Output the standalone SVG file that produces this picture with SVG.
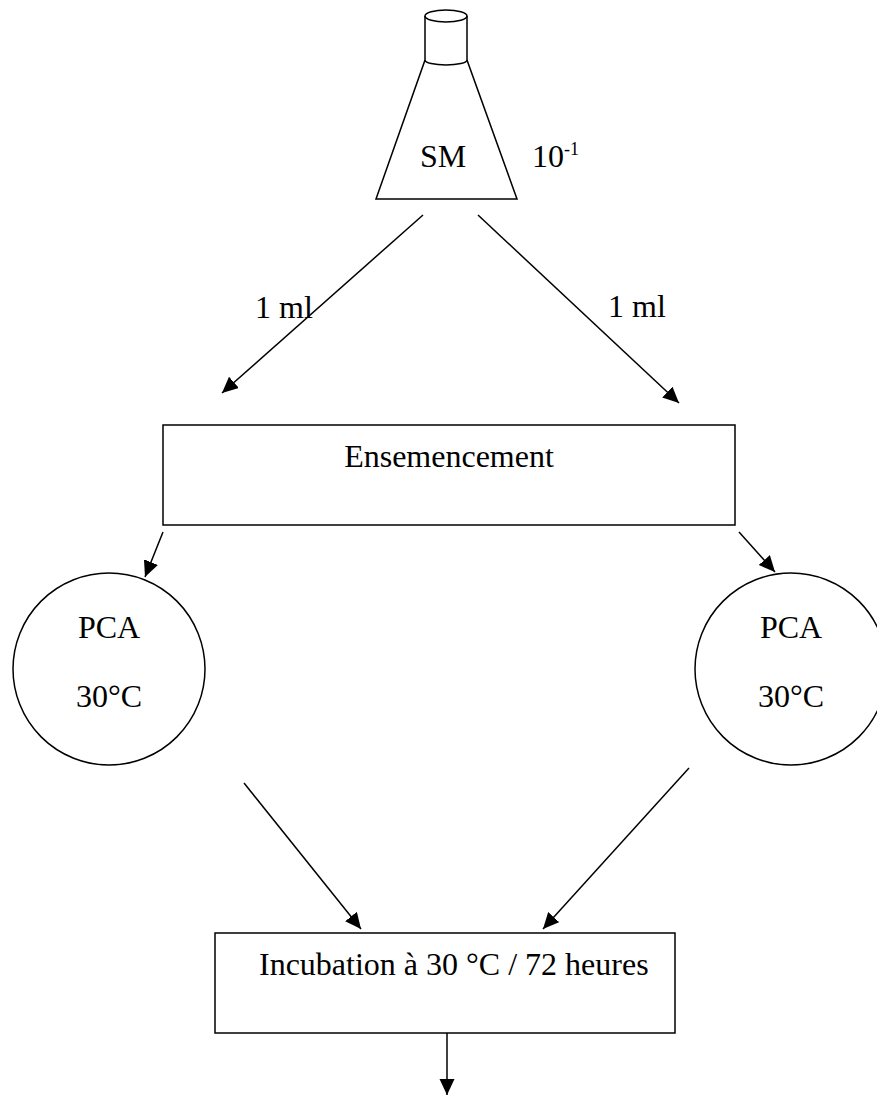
<svg xmlns="http://www.w3.org/2000/svg" width="877" height="1097" viewBox="0 0 877 1097">
<style>
.s{fill:none;stroke:#000;stroke-width:1.5}
.t{font-family:"Liberation Serif","Times New Roman",serif;font-size:32px;fill:#000}
.c{text-anchor:middle}
</style>
<defs>
<marker id="ah" markerUnits="userSpaceOnUse" markerWidth="18" markerHeight="16" refX="16" refY="7.5" orient="auto">
<path d="M0,0 L16,7.5 L0,15 Z" fill="#000"/>
</marker>
</defs>
<rect width="877" height="1097" fill="#fff"/>
<g id="flask">
<path class="s" d="M425,16 L425,60 L376,199 L517,199 L467,60 L467,16"/>
<ellipse class="s" cx="446" cy="16" rx="21" ry="6"/>
<path class="s" d="M425,60 A21,5 0 0 0 467,60"/>
<text class="t c" x="443" y="167" font-size="30">SM</text>
<text class="t" x="532" y="167" font-size="28">10<tspan font-size="18" dy="-12">-1</tspan></text>
</g>
<g id="ensemencement">
<rect class="s" x="163" y="425" width="572" height="100"/>
<text class="t c" x="449" y="467">Ensemencement</text>
</g>
<g id="pca-left">
<circle class="s" cx="109" cy="669" r="96"/>
<text class="t c" x="109" y="638">PCA</text>
<text class="t c" x="109" y="707">30°C</text>
</g>
<g id="pca-right">
<circle class="s" cx="791" cy="669" r="96"/>
<text class="t c" x="791" y="638">PCA</text>
<text class="t c" x="791" y="707">30°C</text>
</g>
<g id="incubation">
<rect class="s" x="215" y="933" width="460" height="100"/>
<text class="t" x="259" y="975" font-size="33">Incubation à 30 °C / 72 heures</text>
</g>
<g id="connectors">
<line class="s" x1="423" y1="215" x2="222" y2="393" marker-end="url(#ah)"/>
<line class="s" x1="478" y1="215" x2="679" y2="403" marker-end="url(#ah)"/>
<line class="s" x1="163" y1="532" x2="145" y2="577" marker-end="url(#ah)"/>
<line class="s" x1="739" y1="532" x2="775" y2="572" marker-end="url(#ah)"/>
<line class="s" x1="244" y1="783" x2="361" y2="929" marker-end="url(#ah)"/>
<line class="s" x1="689" y1="768" x2="543" y2="929" marker-end="url(#ah)"/>
<line class="s" x1="447" y1="1033" x2="447" y2="1095" marker-end="url(#ah)"/>
<text class="t" x="255" y="318" font-size="29">1 ml</text>
<text class="t" x="608" y="317" font-size="29">1 ml</text>
</g>
</svg>
